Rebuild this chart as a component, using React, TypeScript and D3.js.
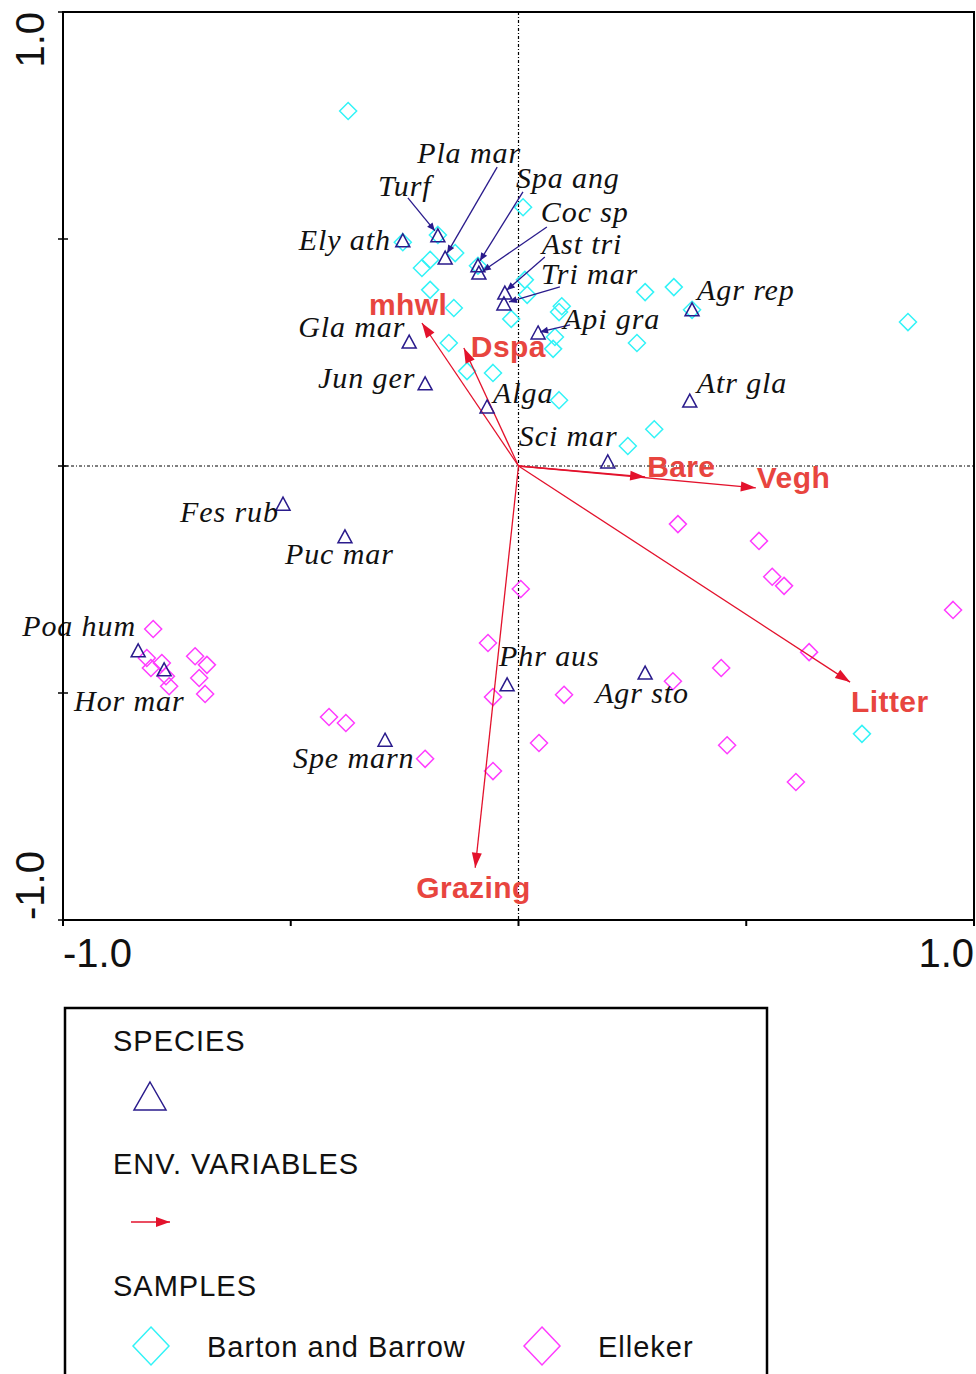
import React from "react";
import * as d3 from "d3";

// ---- Data (CCA biplot scores) ----
const speciesNames = ["Ely ath","Turf","Pla mar","Spa ang","Coc sp","Ast tri","Tri mar","Api gra","Agr rep","Gla mar","Jun ger","Alga","Atr gla","Sci mar","Fes rub","Puc mar","Poa hum","Hor mar","Phr aus","Agr sto","Spe marn"];
const speciesX = [-0.254,-0.177,-0.161,-0.089,-0.087,-0.030,-0.032,0.043,0.381,-0.240,-0.205,-0.069,0.376,0.196,-0.517,-0.381,-0.835,-0.778,-0.025,0.278,-0.293];
const speciesY = [0.496,0.507,0.458,0.441,0.425,0.381,0.357,0.293,0.344,0.273,0.181,0.130,0.143,0.009,-0.084,-0.156,-0.407,-0.449,-0.482,-0.456,-0.604];

const envNames = ["mhwl","Dspa","Bare","Vegh","Litter","Grazing"];
const envX = [-0.212,-0.120,0.278,0.521,0.728,-0.095];
const envY = [0.315,0.260,-0.024,-0.048,-0.476,-0.885];

const bartonX = [-0.374,0.010,-0.254,-0.177,-0.139,-0.194,-0.212,-0.194,-0.142,-0.089,0.014,0.019,-0.016,0.095,0.089,0.080,0.076,-0.153,-0.113,-0.056,0.089,0.278,0.341,0.381,0.855,0.260,0.298,0.240,0.754];
const bartonY = [0.782,0.570,0.493,0.509,0.469,0.454,0.436,0.388,0.348,0.441,0.410,0.377,0.324,0.352,0.339,0.284,0.258,0.271,0.209,0.205,0.145,0.383,0.394,0.344,0.317,0.271,0.081,0.044,-0.590];

const ellekerX = [0.350,0.528,0.557,0.583,0.954,0.638,0.445,0.339,0.458,0.609,0.100,-0.067,-0.056,-0.416,-0.379,-0.205,-0.056,0.045,0.005,-0.802,-0.816,-0.807,-0.783,-0.774,-0.767,-0.710,-0.684,-0.701,-0.688];
const ellekerY = [-0.128,-0.165,-0.244,-0.264,-0.317,-0.410,-0.445,-0.474,-0.615,-0.696,-0.504,-0.390,-0.509,-0.553,-0.566,-0.645,-0.672,-0.610,-0.271,-0.359,-0.423,-0.445,-0.434,-0.463,-0.485,-0.419,-0.438,-0.467,-0.502];

const axisTicks = [-1, -0.5, 0, 0.5, 1];
const axisTickLabels = ["-1.0", "1.0"];
const legendTitles = ["SPECIES", "ENV. VARIABLES", "SAMPLES"];
const sampleGroups = ["Barton and Barrow", "Elleker"];

// ---- Layout (label placement, px offsets from the mark) ----
const speciesLabelOffset: Record<string, [number, number]> = {
  "Ely ath": [-104, 9], "Turf": [-60, -40], "Pla mar": [-28, -95], "Spa ang": [38, -78],
  "Coc sp": [62, -51], "Ast tri": [37, -39], "Tri mar": [37, -20], "Api gra": [25, -4],
  "Agr rep": [5, -10], "Gla mar": [-111, -5], "Jun ger": [-107, 4], "Alga": [6, -4],
  "Atr gla": [7, -8], "Sci mar": [-89, -16], "Fes rub": [-103, 18], "Puc mar": [-60, 27],
  "Poa hum": [-116, -15], "Hor mar": [-90, 41], "Phr aus": [-8, -19], "Agr sto": [-50, 30],
  "Spe marn": [-92, 28],
};
// leader line: [fromDx, fromDy, toDx, toDy]
const leaders: Record<string, [number, number, number, number]> = {
  "Turf": [-30, -38, -3, -5],
  "Pla mar": [52, -91, 2, -5],
  "Spa ang": [45, -74, 2, -5],
  "Coc sp": [68, -46, 4, -2],
  "Ast tri": [40, -36, 2, -3],
  "Tri mar": [56, -17, 5, -2],
  "Api gra": [32, -8, 2, -1],
};
const envLabelOffset: Record<string, [number, number]> = {
  mhwl: [-53, -8], Dspa: [7, 9], Bare: [2, 0], Vegh: [1, 0], Litter: [1, 30], Grazing: [-59, 30],
};

const NAVY = "#2a1b8c";
const RED = "#e3122c";
const RED_LABEL = "#e8453f";
const CYAN = "#33f3f7";
const MAGENTA = "#ff3cff";

const x = d3.scaleLinear().domain([-1, 1]).range([63, 974]);
const y = d3.scaleLinear().domain([-1, 1]).range([920, 12]);

function arrowHead(x0: number, y0: number, x1: number, y1: number, len: number, half: number) {
  const dx = x1 - x0, dy = y1 - y0;
  const L = Math.hypot(dx, dy) || 1;
  const ux = dx / L, uy = dy / L;
  const nx = -uy, ny = ux;
  const bx = x1 - ux * len, by = y1 - uy * len;
  return `${x1},${y1} ${bx + nx * half},${by + ny * half} ${bx - nx * half},${by - ny * half}`;
}

const tri = (cx: number, cy: number, hw: number, up: number, down: number) =>
  `M${cx},${cy - up} L${cx + hw},${cy + down} L${cx - hw},${cy + down} Z`;
const diamond = (cx: number, cy: number, hw: number, hh: number) =>
  `M${cx},${cy - hh} L${cx + hw},${cy} L${cx},${cy + hh} L${cx - hw},${cy} Z`;

export default function App() {
  const x0 = x(0), y0 = y(0);
  const serif = "'Liberation Serif', 'Times New Roman', serif";
  const sans = "'Liberation Sans', Arial, sans-serif";
  return (
    <svg width={976} height={1374} style={{ position: "absolute", left: 0, top: 0, background: "#fff" }}>
      <rect x={0} y={0} width={976} height={1374} fill="#fff" />
      {/* zero lines */}
      <line x1={x0} x2={x0} y1={y(1)} y2={y(-1)} stroke="#000" strokeWidth={1.2} strokeDasharray="3,2,1,2" />
      <line x1={x(-1)} x2={x(1)} y1={y0} y2={y0} stroke="#000" strokeWidth={1.2} strokeDasharray="3,2,1,2" />

      {/* samples */}
      {bartonX.map((v, i) => (
        <path key={"b" + i} d={diamond(x(v), y(bartonY[i]), 8.5, 8.5)} fill="none" stroke={CYAN} strokeWidth={1.5} />
      ))}
      {ellekerX.map((v, i) => (
        <path key={"e" + i} d={diamond(x(v), y(ellekerY[i]), 8.5, 8.5)} fill="none" stroke={MAGENTA} strokeWidth={1.5} />
      ))}

      {/* env arrows */}
      {envNames.map((n, i) => {
        const tx = x(envX[i]), ty = y(envY[i]);
        const off = envLabelOffset[n];
        return (
          <g key={n}>
            <line x1={x0} y1={y0} x2={tx} y2={ty} stroke={RED} strokeWidth={1.3} />
            <polygon points={arrowHead(x0, y0, tx, ty, 15, 5)} fill={RED} />
            <text x={tx + off[0]} y={ty + off[1]} fontFamily={sans} fontWeight="bold" fontSize={30} letterSpacing={0.4} fill={RED_LABEL}>{n}</text>
          </g>
        );
      })}

      {/* species */}
      {speciesNames.map((n, i) => {
        const px = x(speciesX[i]), py = y(speciesY[i]);
        const off = speciesLabelOffset[n];
        const ld = leaders[n];
        return (
          <g key={n}>
            <path d={tri(px, py, 7, 7, 6)} fill="none" stroke={NAVY} strokeWidth={1.5} />
            {ld && (
              <>
                <line x1={px + ld[0]} y1={py + ld[1]} x2={px + ld[2]} y2={py + ld[3]} stroke={NAVY} strokeWidth={1.3} />
                <polygon points={arrowHead(px + ld[0], py + ld[1], px + ld[2], py + ld[3], 8, 3.5)} fill={NAVY} />
              </>
            )}
            <text x={px + off[0]} y={py + off[1]} fontFamily={serif} fontStyle="italic" fontSize={30} letterSpacing={0.9} fill="#111">{n}</text>
          </g>
        );
      })}

      {/* frame */}
      <rect x={x(-1)} y={y(1)} width={x(1) - x(-1)} height={y(-1) - y(1)} fill="none" stroke="#000" strokeWidth={2} />
      {axisTicks.map((t) => (
        <g key={"t" + t}>
          <line x1={x(t)} x2={x(t)} y1={y(-1)} y2={y(-1) + 6} stroke="#000" strokeWidth={2} />
          <line x1={x(-1) - 5} x2={x(-1) + 5} y1={y(t)} y2={y(t)} stroke="#000" strokeWidth={1.5} />
        </g>
      ))}
      <text x={x(-1)} y={967} fontFamily={sans} fontSize={40} fill="#111">{axisTickLabels[0]}</text>
      <text x={x(1)} y={967} fontFamily={sans} fontSize={40} fill="#111" textAnchor="end">{axisTickLabels[1]}</text>
      <text transform={`translate(44,${y(1)}) rotate(-90)`} fontFamily={sans} fontSize={40} fill="#111" textAnchor="end">{axisTickLabels[1]}</text>
      <text transform={`translate(44,${y(-1)}) rotate(-90)`} fontFamily={sans} fontSize={40} fill="#111" textAnchor="start">{axisTickLabels[0]}</text>

      {/* legend */}
      <rect x={65} y={1008} width={702} height={420} fill="none" stroke="#000" strokeWidth={2.5} />
      <text x={113} y={1051} fontFamily={sans} fontSize={29} letterSpacing={1} fill="#111">{legendTitles[0]}</text>
      <path d={tri(150, 1097, 16, 15, 13)} fill="none" stroke={NAVY} strokeWidth={1.5} />
      <text x={113} y={1174} fontFamily={sans} fontSize={29} letterSpacing={1} fill="#111">{legendTitles[1]}</text>
      <line x1={131} y1={1222} x2={170} y2={1222} stroke={RED} strokeWidth={1.5} />
      <polygon points={arrowHead(131, 1222, 170, 1222, 14, 5)} fill={RED} />
      <text x={113} y={1296} fontFamily={sans} fontSize={29} letterSpacing={1} fill="#111">{legendTitles[2]}</text>
      <path d={diamond(151, 1346, 18, 19)} fill="none" stroke={CYAN} strokeWidth={1.5} />
      <text x={207} y={1357} fontFamily={sans} fontSize={29} letterSpacing={1} fill="#111">{sampleGroups[0]}</text>
      <path d={diamond(542, 1346, 18, 19)} fill="none" stroke={MAGENTA} strokeWidth={1.5} />
      <text x={598} y={1357} fontFamily={sans} fontSize={29} letterSpacing={1} fill="#111">{sampleGroups[1]}</text>
    </svg>
  );
}
